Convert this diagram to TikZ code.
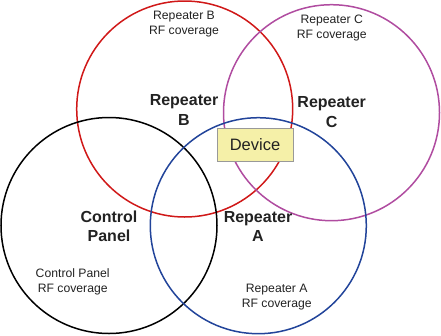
\documentclass[tikz,border=0pt]{standalone}
\usepackage{fontspec}
\setmainfont{Liberation Sans}
\usetikzlibrary{positioning}
\definecolor{ringred}{HTML}{D01818}
\definecolor{ringpurple}{HTML}{B04CA0}
\definecolor{ringblue}{HTML}{22449A}
\definecolor{devfill}{HTML}{F5F0A8}
\definecolor{txt}{HTML}{222222}
\tikzset{
  ring/.style={line width=1.5pt},
  title/.style={font=\fontsize{16}{19.5}\selectfont\bfseries,align=center,text=txt,inner sep=0pt},
  cover/.style={font=\fontsize{12.2}{15}\selectfont,align=center,text=txt,inner sep=0pt}
}
\begin{document}
\begin{tikzpicture}[x=1pt,y=-1pt]
        \useasboundingbox (0,0) rectangle (441,335);
        \draw[ring,ringred] (184.7,109) circle[radius=108pt];
        \draw[ring,ringpurple] (331.5,112.7) circle[radius=108pt];
        \draw[ring,black] (109,225.5) circle[radius=108pt];
        \draw[ring,ringblue] (258.3,225.7) circle[radius=108pt];
        \node[draw=gray!80,fill=devfill,minimum width=76pt,minimum height=33pt,
              font=\fontsize{16.5}{19}\selectfont,text=txt] (device) at (255,144.7) {Device};
        \node[title] (repB) at (184,110) {Repeater\\B};
        \node[title] (repC) at (331.7,112) {Repeater\\C};
        \node[title] (panel) at (109,226.5) {Control\\Panel};
        \node[title] (repA) at (258,226.5) {Repeater\\A};
        \node[cover] (covB) at (184,24.5) {Repeater B\\RF coverage};
        \node[cover] (covC) at (331.7,28) {Repeater C\\RF coverage};
        \node[cover] (covP) at (72.7,281.5) {Control Panel\\RF coverage};
        \node[cover] (covA) at (276.7,297.5) {Repeater A\\RF coverage};
    \end{tikzpicture}
\end{document}
